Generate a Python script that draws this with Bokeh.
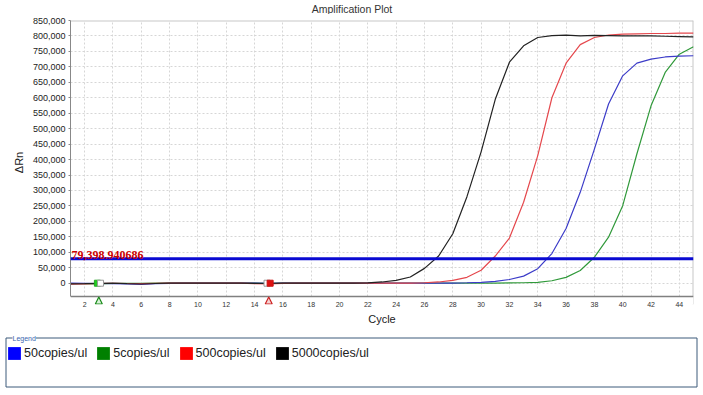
from bokeh.plotting import figure
from bokeh.models import (Range1d, FixedTicker, NumeralTickFormatter, Span, Label,
                          Legend, LegendItem, ColumnDataSource, Arrow, NormalHead,
                          BoxAnnotation)
from bokeh.embed import file_html
from bokeh.resources import INLINE

# ---------------- data ----------------
cycles = list(range(1, 46))
series_names = ["50copies/ul", "5copies/ul", "500copies/ul", "5000copies/ul"]

delta_rn_50 = [0, -500, -1000, -1500, -2500, -3500, -1500, -500, 0, 0,
               0, 0, 0, 0, -500, 0, 0, 0, 0, 0,
               0, 0, 0, 0, 0, 0, 0, 500, 1500, 3000,
               6000, 12000, 23000, 47000, 96000, 177000, 294000, 434000, 580000, 671000,
               712000, 725000, 732000, 735000, 736000]
delta_rn_5 = [-1000, -1500, -2000, -1000, -500, -500, 0, 0, 0, 0,
              0, 0, 0, 0, -500, 0, 0, 0, 0, 0,
              0, 0, 0, 0, 0, 0, 0, 0, 0, 0,
              500, 1000, 1500, 3000, 8000, 19000, 41000, 84000, 149000, 251000,
              418000, 574000, 682000, 741000, 765000]
delta_rn_500 = [-3000, -2500, -1000, -500, -1000, -1500, -500, 0, 0, 0,
                0, 0, 0, -1500, -2000, -500, 0, 0, 0, 0,
                0, 0, 0, 0, 500, 1500, 4000, 9000, 19000, 42000,
                88000, 146000, 262000, 413000, 600000, 712000, 772000, 795000, 803000, 806000,
                807000, 808000, 808000, 809000, 809000]
delta_rn_5000 = [-2000, -1500, -500, 0, -1500, -2500, -1000, 0, 0, 0,
                 0, 0, 0, -500, -1000, 0, 0, 0, 0, 0,
                 0, 1000, 4000, 9000, 20000, 48000, 88000, 160000, 280000, 425000,
                 595000, 715000, 768000, 795000, 801000, 803000, 800000, 802000, 801000, 800000,
                 800000, 800000, 799000, 798000, 797000]

threshold = 79398.940686
baseline_start = 3
baseline_end = 15

x_ticks = list(range(2, 45, 2))
y_ticks = list(range(0, 850001, 50000))
title_text = "Amplification Plot"

# ---------------- styles ----------------
curve_colors = ["#3c3cc8", "#30993a", "#e5484d", "#222222"]
legend_colors = ["#0000ff", "#008000", "#ff0000", "#000000"]
FONT = "Liberation Sans"
W = 703
X0, X1 = 1, 45
Y_AXIS, Y1 = -43000, 850000
unit = (Y1 - Y_AXIS) / 276.0          # data units per pixel (vertical)
Y0 = Y_AXIS - 8 * unit                 # extra strip below the axis for the markers


def blank(height):
    f = figure(width=W, height=height, x_range=Range1d(0, W), y_range=Range1d(height, 0),
               output_backend="svg", toolbar_location=None,
               min_border_left=0, min_border_right=0, min_border_top=0, min_border_bottom=0)
    f.axis.visible = False
    f.grid.visible = False
    f.outline_line_color = None
    f.background_fill_color = "white"
    f.border_fill_color = "white"
    return f


# ---------------- title strip ----------------
p0 = blank(14)
p0.add_layout(Label(x=W / 2, y=8, text=title_text, text_align="center", text_baseline="middle",
                    text_font=FONT, text_font_size="10.5px", text_color="#333333"))

# ---------------- main plot ----------------
src = ColumnDataSource(dict(cycle=cycles, s50=delta_rn_50, s5=delta_rn_5,
                            s500=delta_rn_500, s5000=delta_rn_5000))

p = figure(width=W, height=316, x_range=Range1d(X0, X1), y_range=Range1d(Y0, Y1),
           output_backend="svg", toolbar_location=None,
           min_border_left=70, min_border_right=10, min_border_top=6, min_border_bottom=26)
p.outline_line_color = None
p.background_fill_color = "white"
p.border_fill_color = "white"

p.xaxis.ticker = FixedTicker(ticks=x_ticks)
p.xaxis.axis_line_color = None
p.xaxis.major_tick_line_color = None
p.xaxis.major_tick_out = 0
p.xaxis.major_tick_in = 0
p.xaxis.minor_tick_line_color = None
p.xaxis.major_label_text_font = FONT
p.xaxis.major_label_text_font_size = "7px"
p.xaxis.major_label_text_color = "#333333"
p.xaxis.major_label_standoff = -3
p.xaxis.axis_label = "Cycle"
p.xaxis.axis_label_text_font = FONT
p.xaxis.axis_label_text_font_size = "11px"
p.xaxis.axis_label_text_font_style = "normal"
p.xaxis.axis_label_text_color = "#222222"
p.xaxis.axis_label_standoff = 3

p.yaxis.bounds = (Y_AXIS, Y1)
p.yaxis.ticker = FixedTicker(ticks=y_ticks)
p.yaxis.formatter = NumeralTickFormatter(format="0,0")
p.yaxis.major_tick_out = 2
p.yaxis.major_tick_in = 0
p.yaxis.major_tick_line_color = "#888888"
p.yaxis.minor_tick_line_color = None
p.yaxis.major_label_text_font = FONT
p.yaxis.major_label_text_font_size = "9px"
p.yaxis.major_label_text_color = "#222222"
p.yaxis.major_label_standoff = 3
p.yaxis.axis_label = "ΔRn"
p.yaxis.axis_label_text_font = FONT
p.yaxis.axis_label_text_font_size = "11px"
p.yaxis.axis_label_text_font_style = "normal"
p.yaxis.axis_label_text_color = "#222222"
p.yaxis.axis_label_standoff = 5
p.yaxis.axis_line_color = "#888888"

p.grid.grid_line_color = "#d6d6d6"
p.grid.grid_line_dash = "2 2"

# frame border (top and right) and a white strip hiding the grid below the axis
p.add_layout(Span(location=Y1, dimension="width", line_color="#c8c8c8", line_width=2, level="underlay"))
p.add_layout(Span(location=X1, dimension="height", line_color="#c8c8c8", line_width=2, level="underlay"))
p.add_layout(BoxAnnotation(bottom=Y0, top=Y_AXIS, fill_color="white", fill_alpha=1,
                           line_alpha=0, level="underlay"))
# x axis line
p.add_layout(Span(location=Y_AXIS, dimension="width", line_color="#808080", line_width=1.5))

for col, color in zip(["s5", "s50", "s500", "s5000"],
                      [curve_colors[1], curve_colors[0], curve_colors[2], curve_colors[3]]):
    p.line("cycle", col, source=src, line_color=color, line_width=1.2)

p.add_layout(Span(location=threshold, dimension="width", line_color="#0a0ad2", line_width=3))
p.add_layout(Label(x=X0, y=threshold, text=f"{threshold:,.6f}", x_offset=1, y_offset=4,
                   text_baseline="middle", text_color="#cc0000", text_font="Liberation Serif",
                   text_font_size="12px", text_font_style="bold"))

# baseline markers
p.scatter([baseline_start - 0.1], [0], marker="square", size=6, fill_color="#22cc22", line_color="#22aa22")
p.scatter([baseline_start + 0.12], [0], marker="square", size=6, fill_color="white", line_color="#999999")
p.scatter([baseline_end - 0.12], [0], marker="square", size=6, fill_color="white", line_color="#999999")
p.scatter([baseline_end + 0.1], [0], marker="square", size=6, fill_color="#dd1111", line_color="#cc1111")

for cx, lc, fc in [(baseline_start, "#1a8a1a", "#d8f2d8"), (baseline_end, "#cc2020", "#f6d2d2")]:
    p.add_layout(Arrow(x_start=cx, x_end=cx, y_start=Y0 - 4 * unit, y_end=Y_AXIS - 0.5 * unit,
                       line_alpha=0, line_width=0,
                       end=NormalHead(size=7, fill_color=fc, line_color=lc, line_width=1.2)))

# ---------------- legend box ----------------
p2 = blank(65)
p2.add_layout(BoxAnnotation(left=5.5, right=696.5, top=7.5, bottom=56.5, fill_alpha=0,
                            line_color="#3d5b7a", line_alpha=1, line_width=1))

nan = float("nan")
items = []
for name, color in zip(series_names, legend_colors):
    r = p2.quad(left=[nan], right=[nan], top=[nan], bottom=[nan], fill_color=color, line_color=None)
    items.append(LegendItem(label=name, renderers=[r]))

legend = Legend(items=items, orientation="horizontal", location=(6, 34),
                border_line_color=None, background_fill_alpha=0,
                glyph_width=16, glyph_height=16, label_standoff=2, spacing=8,
                padding=0, margin=0, label_text_font=FONT, label_text_font_size="12.5px",
                label_text_color="#222222")
p2.add_layout(legend, "center")
p2.add_layout(Label(x=12, y=7.5, text="Legend", text_font=FONT, text_font_size="7px",
                    text_color="#3a66b0", text_baseline="middle",
                    background_fill_color="white"))

open("out.html", "w").write(file_html([p0, p, p2], INLINE))
